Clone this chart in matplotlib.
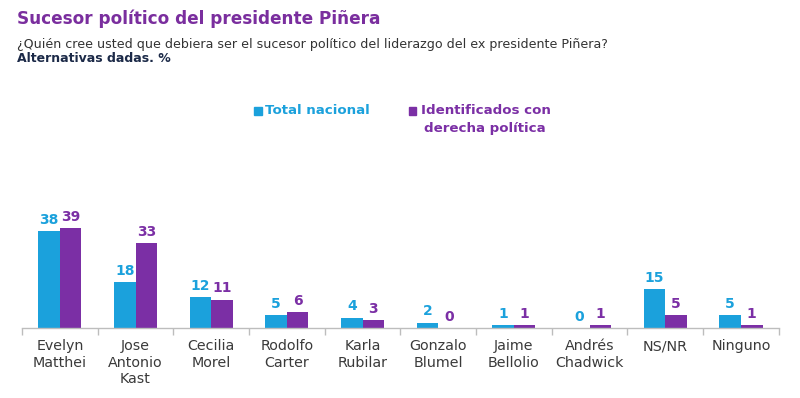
import numpy as np
import matplotlib.pyplot as plt

# Data
categories = ['Evelyn\nMatthei', 'Jose\nAntonio\nKast', 'Cecilia\nMorel', 'Rodolfo\nCarter',
              'Karla\nRubilar', 'Gonzalo\nBlumel', 'Jaime\nBellolio', 'Andrés\nChadwick',
              'NS/NR', 'Ninguno']
total_nacional = [38, 18, 12, 5, 4, 2, 1, 0, 15, 5]
derecha = [39, 33, 11, 6, 3, 0, 1, 1, 5, 1]

blue = '#1BA1DC'
purple = '#7B2FA5'
title_purple = '#7A2E9E'
text_gray = '#3a3a3a'

plt.rcParams['font.family'] = ['DejaVu Sans']

fig = plt.figure(figsize=(8, 3.98), dpi=100)
ax = fig.add_axes([0.0275, 0.1766, 0.946, 0.42])

x = np.arange(len(categories))
w = 0.285
b1 = ax.bar(x - w / 2, total_nacional, w, color=blue)
b2 = ax.bar(x + w / 2, derecha, w, color=purple)

for rect, v in zip(b1, total_nacional):
    ax.annotate(str(v), (rect.get_x() + rect.get_width() / 2, v), xytext=(0, 3),
                textcoords='offset points', ha='center', va='bottom',
                color=blue, fontsize=10, fontweight='bold')
for rect, v in zip(b2, derecha):
    ax.annotate(str(v), (rect.get_x() + rect.get_width() / 2, v), xytext=(0, 3),
                textcoords='offset points', ha='center', va='bottom',
                color=purple, fontsize=10, fontweight='bold')

ax.set_xlim(-0.5, len(categories) - 0.5)
ax.set_ylim(0, 65.5)
ax.set_yticks([])
for s in ['top', 'right', 'left']:
    ax.spines[s].set_visible(False)
ax.spines['bottom'].set_color('#bdbdbd')
ax.spines['bottom'].set_linewidth(1)

# category boundary ticks
ax.set_xticks(np.arange(-0.5, len(categories), 1.0))
ax.set_xticklabels([])
ax.tick_params(axis='x', length=5, color='#bdbdbd', width=1)
for i, c in enumerate(categories):
    ax.text(i, -4.6, c, ha='center', va='top', fontsize=10.3, color=text_gray,
            linespacing=1.22)

fig.text(0.021, 0.952, 'Sucesor político del presidente Piñera', fontsize=12.2,
         fontweight='bold', color=title_purple, va='center')
fig.text(0.021, 0.888, '¿Quién cree usted que debiera ser el sucesor político del liderazgo del ex presidente Piñera?',
         fontsize=9.1, color='#333333', va='center')
fig.text(0.021, 0.852, 'Alternativas dadas. %', fontsize=9, fontweight='bold',
         color='#1c2a48', va='center')

# legend
fig.patches.append(plt.Rectangle((0.318, 0.712), 0.0095, 0.019, color=blue,
                                 transform=fig.transFigure, figure=fig))
fig.text(0.331, 0.722, 'Total nacional', fontsize=9.6, fontweight='bold', color=blue, va='center')
fig.patches.append(plt.Rectangle((0.511, 0.712), 0.0095, 0.019, color=purple,
                                 transform=fig.transFigure, figure=fig))
fig.text(0.526, 0.722, 'Identificados con', fontsize=9.6, fontweight='bold', color=purple, va='center')
fig.text(0.53, 0.678, 'derecha política', fontsize=9.6, fontweight='bold', color=purple, va='center')

fig.savefig('out.png', dpi=100)
